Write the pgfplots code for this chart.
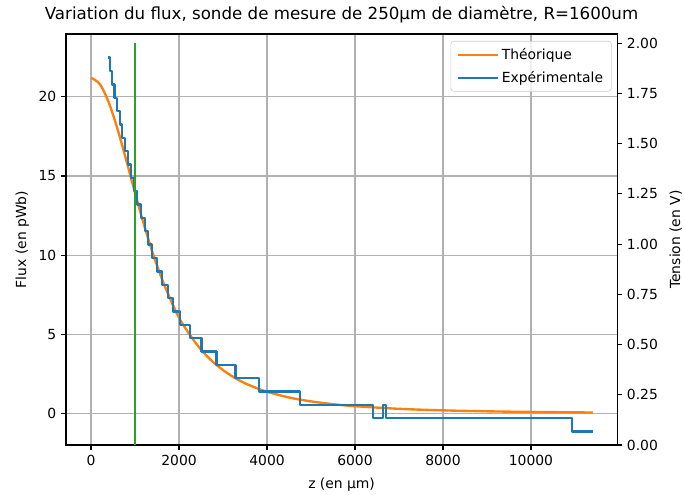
\documentclass[border=0pt]{standalone}
\usepackage{fontspec}
\setmainfont{DejaVu Sans}
\usepackage{pgfplots}
\pgfplotsset{compat=1.18}
\definecolor{mplorange}{HTML}{FF7F0E}
\definecolor{mplblue}{HTML}{1F77B4}
\definecolor{mplgreen}{HTML}{2CA02C}
\definecolor{gridgray}{HTML}{B0B0B0}
\begin{document}
\begin{tikzpicture}
\useasboundingbox (-47.5pt,-36pt) rectangle (445pt,320.4pt);
\pgfplotsset{
  common/.style={
    scale only axis, width=396.9pt, height=295.9pt, at={(0pt,0pt)}, anchor=south west,
    xmin=-570, xmax=11960,
    tick align=outside, major tick length=3.5pt,
    every tick/.style={black, line width=0.8pt},
    axis line style={line width=0.8pt, black},
    tick label style={font=\fontsize{10}{12}\selectfont},
    label style={font=\fontsize{10}{12}\selectfont},
    scaled x ticks=false, scaled y ticks=false,
    /pgf/number format/assume math mode=true,
    /pgf/number format/set thousands separator={},
  }
}
\begin{axis}[common,
  ymin=-1.975, ymax=23.96,
  xtick={0,2000,4000,6000,8000,10000}, ytick={0,5,10,15,20},
  xtick pos=bottom, ytick pos=left,
  grid=major, major grid style={gridgray, line width=0.8pt},
  xlabel={z (en µm)}, ylabel={Flux (en pWb)},
  xlabel style={yshift=-2.5pt},
  title={Variation du flux, sonde de mesure de 250µm de diamètre, R=1600um},
  title style={font=\fontsize{12}{14.4}\selectfont, yshift=-1.5pt},
]
\addplot[mplorange, line width=1.7pt, smooth] coordinates {
(0,21.20) (200,20.80) (400,19.66) (600,17.98) (800,16.00) (1000,13.93) (1200,11.96)
(1400,10.16) (1600,8.59) (1800,7.24) (2000,6.05) (2250,4.96) (2500,4.04) (2750,3.32)
(3000,2.75) (3250,2.29) (3500,1.92) (3750,1.63) (4000,1.385) (4500,1.02) (5000,0.776)
(5500,0.60) (6000,0.473) (7000,0.307) (8000,0.210) (9000,0.150) (10000,0.110) (11409,0.075)
};
\end{axis}
\begin{axis}[common,
  ymin=0, ymax=2.046,
  axis x line=none, axis y line*=right,
  ytick={0,0.25,0.5,0.75,1,1.25,1.5,1.75,2},
  yticklabel style={/pgf/number format/.cd, fixed, fixed zerofill, precision=2},
  ylabel={Tension (en V)},
  ylabel style={yshift=-1.5pt},
  legend style={at={(1,1)}, xshift=-4pt, yshift=-5pt, anchor=north east,
    draw=black!20, rounded corners=2pt, fill=white, fill opacity=0.8, text opacity=1,
    font=\fontsize{10}{12}\selectfont, inner xsep=4pt, inner ysep=3pt, row sep=3pt},
  legend cell align=left,
  legend image code/.code={\path (-2pt,0pt) -- (27pt,0pt); \draw[#1] (0pt,0pt) -- (20pt,0pt);},
]
\addlegendimage{mplorange, line width=1.7pt}
\addlegendentry{Théorique}
\addplot[mplblue, line width=1.7pt, const plot, line join=round] coordinates {
(386,1.9285) (436,1.862) (482,1.7955) (534,1.729) (595,1.6625) (652,1.596) (709,1.5295)
(766,1.463) (834,1.3965) (902,1.33) (970,1.2635) (1039,1.197) (1130,1.1305) (1220,1.064)
(1300,0.9975) (1391,0.931) (1493,0.8645) (1618,0.798) (1750,0.7315) (1864,0.665)
(2016,0.5985) (2243,0.532) (2509,0.4655) (2850,0.399) (3282,0.3325) (3818,0.266)
(4743,0.1995) (6409,0.133) (6636,0.1995) (6700,0.133)
(10932,0.0665) (11409,0.0665)
};
\addlegendentry{Expérimentale}
\addplot[mplgreen, line width=1.7pt, forget plot] coordinates {(1000,0) (1000,2)};
\end{axis}
\end{tikzpicture}
\end{document}
